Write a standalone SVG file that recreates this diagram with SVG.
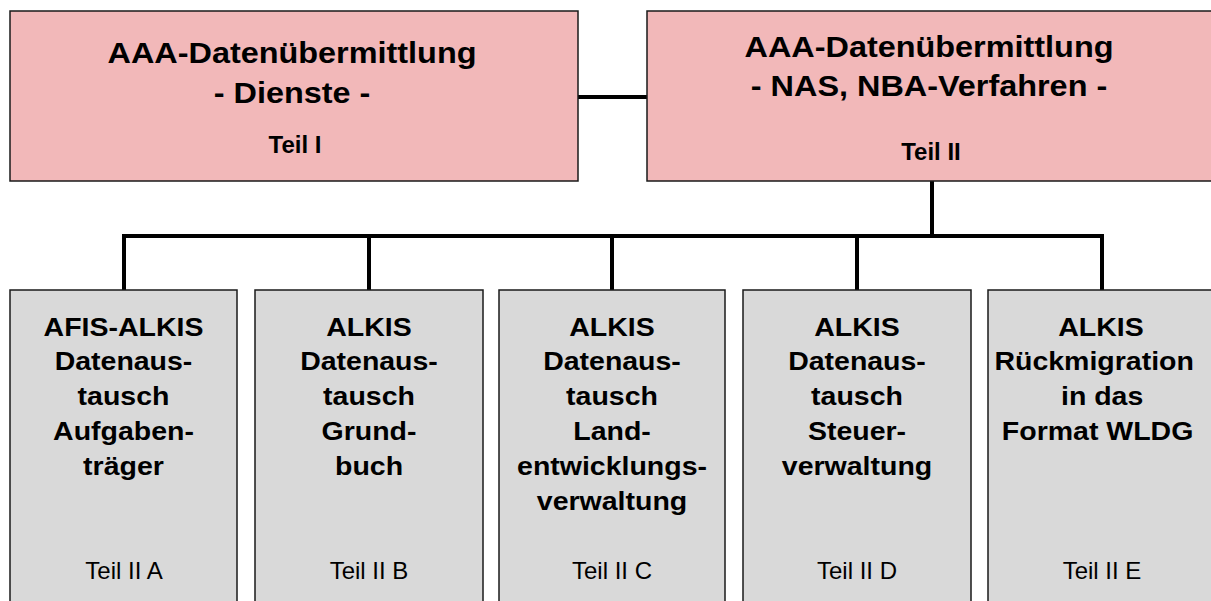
<svg xmlns="http://www.w3.org/2000/svg" width="1211" height="601" viewBox="0 0 1211 601">
<style>
.top{fill:#F2B8B9;stroke:#1a1a1a;stroke-width:1.5}
.bot{fill:#D9D9D9;stroke:#1a1a1a;stroke-width:1.5}
.t1{font-family:"Liberation Sans",Arial,sans-serif;font-weight:bold;font-size:30px;text-anchor:middle;fill:#000}
.t2{font-family:"Liberation Sans",Arial,sans-serif;font-weight:bold;font-size:24px;text-anchor:middle;fill:#000}
.b1{font-family:"Liberation Sans",Arial,sans-serif;font-weight:bold;font-size:25px;text-anchor:middle;fill:#000}
.b2{font-family:"Liberation Sans",Arial,sans-serif;font-size:24px;text-anchor:middle;fill:#000}
.con{stroke:#000;stroke-width:4;fill:none;stroke-linecap:square}
</style>
<rect width="1211" height="601" fill="#fff"/>
<g id="connectors">
<line class="con" x1="578" y1="97" x2="647" y2="97"/>
<line class="con" x1="932" y1="181" x2="932" y2="236"/>
<line class="con" x1="124" y1="236" x2="1102" y2="236"/>
<line class="con" x1="124" y1="236" x2="124" y2="289"/>
<line class="con" x1="369" y1="236" x2="369" y2="289"/>
<line class="con" x1="612" y1="236" x2="612" y2="289"/>
<line class="con" x1="857" y1="236" x2="857" y2="289"/>
<line class="con" x1="1102" y1="236" x2="1102" y2="289"/>
</g>
<g id="teil1">
<rect class="top" x="10" y="11" width="568" height="170"/>
<g transform="translate(292,0) scale(1.08,1)">
<text class="t1" x="0" y="63">AAA-Datenübermittlung</text>
<text class="t1" x="0" y="103">- Dienste -</text>
</g>
<text class="t2" x="295" y="153">Teil I</text>
</g>
<g id="teil2">
<rect class="top" x="647" y="11" width="570" height="170"/>
<g transform="translate(929,0) scale(1.08,1)">
<text class="t1" x="0" y="57">AAA-Datenübermittlung</text>
<text class="t1" x="0" y="96">- NAS, NBA-Verfahren -</text>
</g>
<text class="t2" x="931" y="160">Teil II</text>
</g>
<g id="teil2a">
<rect class="bot" x="10" y="290" width="227" height="320"/>
<g transform="translate(123.5,0) scale(1.14,1)">
<text class="b1" x="0" y="336">AFIS-ALKIS</text>
<text class="b1" x="0" y="370.5">Datenaus-</text>
<text class="b1" x="0" y="405">tausch</text>
<text class="b1" x="0" y="440">Aufgaben-</text>
<text class="b1" x="0" y="475">träger</text>
</g>
<text class="b2" x="124" y="579">Teil II A</text>
</g>
<g id="teil2b">
<rect class="bot" x="255" y="290" width="228" height="320"/>
<g transform="translate(369,0) scale(1.14,1)">
<text class="b1" x="0" y="336">ALKIS</text>
<text class="b1" x="0" y="370.5">Datenaus-</text>
<text class="b1" x="0" y="405">tausch</text>
<text class="b1" x="0" y="440">Grund-</text>
<text class="b1" x="0" y="475">buch</text>
</g>
<text class="b2" x="369" y="579">Teil II B</text>
</g>
<g id="teil2c">
<rect class="bot" x="499" y="290" width="226" height="320"/>
<g transform="translate(612,0) scale(1.14,1)">
<text class="b1" x="0" y="336">ALKIS</text>
<text class="b1" x="0" y="370.5">Datenaus-</text>
<text class="b1" x="0" y="405">tausch</text>
<text class="b1" x="0" y="440">Land-</text>
<text class="b1" x="0" y="475">entwicklungs-</text>
<text class="b1" x="0" y="510">verwaltung</text>
</g>
<text class="b2" x="612" y="579">Teil II C</text>
</g>
<g id="teil2d">
<rect class="bot" x="743" y="290" width="228" height="320"/>
<g transform="translate(857,0) scale(1.14,1)">
<text class="b1" x="0" y="336">ALKIS</text>
<text class="b1" x="0" y="370.5">Datenaus-</text>
<text class="b1" x="0" y="405">tausch</text>
<text class="b1" x="0" y="440">Steuer-</text>
<text class="b1" x="0" y="475">verwaltung</text>
</g>
<text class="b2" x="857" y="579">Teil II D</text>
</g>
<g id="teil2e">
<rect class="bot" x="988" y="290" width="228" height="320"/>
<g transform="translate(1101,0) scale(1.14,1)">
<text class="b1" x="0" y="336">ALKIS</text>
<text class="b1" x="-6" y="370.5">Rückmigration</text>
<text class="b1" x="1" y="405">in das</text>
<text class="b1" x="-3" y="440">Format WLDG</text>
</g>
<text class="b2" x="1102" y="579">Teil II E</text>
</g>
</svg>
